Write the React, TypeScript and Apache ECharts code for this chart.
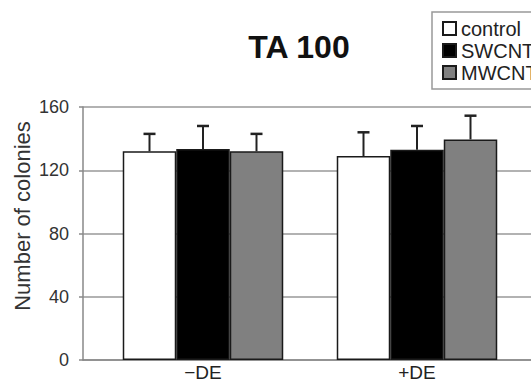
import React, { useEffect, useRef } from "react";
import * as echarts from "echarts";

const categories = ["\u2212DE", "+DE"];
const seriesNames = ["control", "SWCNT", "MWCNT"];
const controlMean = [132, 129];
const controlErr = [11, 15];
const swcntMean = [133.5, 133];
const swcntErr = [14.5, 15];
const mwcntMean = [132, 139.5];
const mwcntErr = [11, 15];
const yMin = 0;
const yMax = 160;
const yInterval = 40;

const FONT = "Liberation Sans, Arial, Helvetica, sans-serif";
const BAR_W = 53.5;
const colors = ["#ffffff", "#000000", "#808080"];

export default function App() {
  const ref = useRef<HTMLDivElement>(null);
  useEffect(() => {
    if (!ref.current) return;
    const chart = echarts.init(ref.current, null, { renderer: "svg" });
    const means = [controlMean, swcntMean, mwcntMean];
    const errs = [controlErr, swcntErr, mwcntErr];

    const barSeries = seriesNames.map((name, i) => ({
      name,
      type: "bar",
      xAxisIndex: 0,
      yAxisIndex: 0,
      barWidth: BAR_W,
      barGap: "0%",
      data: means[i],
      itemStyle: { color: colors[i], borderColor: "#1a1a1a", borderWidth: 1.5 },
      z: 2,
    }));

    const errSeries = seriesNames.map((name, i) => ({
      name: name + " error",
      type: "custom",
      xAxisIndex: 0,
      yAxisIndex: 0,
      z: 3,
      encode: { x: 0, y: 1 },
      data: means[i].map((m, k) => [k, m, errs[i][k]]),
      renderItem: (params: any, api: any) => {
        const x = api.value(0);
        const m = api.value(1);
        const e = api.value(2);
        const base = api.coord([x, m]);
        const top = api.coord([x, m + e]);
        const cx = base[0] + (i - 1) * BAR_W;
        return {
          type: "group",
          children: [
            {
              type: "line",
              shape: { x1: cx, y1: base[1], x2: cx, y2: top[1] },
              style: { stroke: "#222", lineWidth: 2 },
            },
            {
              type: "line",
              shape: { x1: cx - 6, y1: top[1], x2: cx + 6, y2: top[1] },
              style: { stroke: "#222", lineWidth: 2.5 },
            },
          ],
        };
      },
    }));

    chart.setOption({
      animation: false,
      backgroundColor: "#ffffff",
      title: {
        text: "TA 100",
        left: 294,
        top: 26,
        textAlign: "center",
        textStyle: { fontFamily: FONT, fontSize: 32, fontWeight: "bold", color: "#111" },
      },
      legend: {
        data: seriesNames,
        orient: "vertical",
        left: 432,
        top: 12,
        padding: [6, 10, 6, 10],
        itemGap: 1,
        itemWidth: 13,
        itemHeight: 13,
        icon: "rect",
        borderColor: "#999",
        borderWidth: 1.5,
        textStyle: { fontFamily: FONT, fontSize: 20, color: "#222", lineHeight: 21 },
      },
      graphic: [
        {
          type: "text",
          x: 22,
          y: 216,
          rotation: Math.PI / 2,
          style: {
            text: "Number of colonies",
            align: "center",
            verticalAlign: "middle",
            font: "22px " + FONT,
            fill: "#333",
          },
        },
      ],
      grid: [
        { left: 96, right: 7, top: 107, bottom: 24, outerBoundsMode: "none", containLabel: false },
        { left: 83, right: 0, top: 107, bottom: 24, outerBoundsMode: "none", containLabel: false },
      ],
      xAxis: [
        {
          type: "category",
          gridIndex: 0,
          data: categories,
          axisLine: { show: false },
          axisTick: { show: false },
          axisLabel: { fontFamily: FONT, fontSize: 19, color: "#222", margin: 3, lineHeight: 19 },
          splitLine: { show: false },
        },
        {
          type: "value",
          gridIndex: 1,
          min: 0,
          max: 1,
          axisLine: { show: true, lineStyle: { color: "#888", width: 1.5 } },
          axisTick: { show: false },
          axisLabel: { show: false },
          splitLine: { show: false },
        },
      ],
      yAxis: [
        {
          type: "value",
          gridIndex: 0,
          min: yMin,
          max: yMax,
          interval: yInterval,
          show: false,
          splitLine: { show: false },
        },
        {
          type: "value",
          gridIndex: 1,
          min: yMin,
          max: yMax,
          interval: yInterval,
          axisLine: { show: true, lineStyle: { color: "#888", width: 1.5 } },
          axisTick: { show: true, length: 4, lineStyle: { color: "#888", width: 1.5 } },
          axisLabel: { fontFamily: FONT, fontSize: 18, color: "#333", margin: 14 },
          splitLine: { show: true, lineStyle: { color: "#999", width: 1.5 } },
        },
      ],
      series: [...barSeries, ...errSeries],
    });
    return () => chart.dispose();
  }, []);
  return (
    <div
      ref={ref}
      style={{ position: "fixed", left: 0, top: 0, width: 531, height: 384 }}
    />
  );
}
